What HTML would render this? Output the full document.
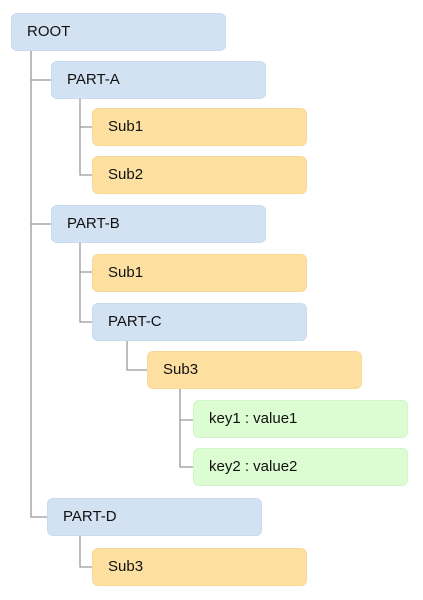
<!DOCTYPE html>
<html><head><meta charset="utf-8"><style>
body{margin:0;width:423px;height:600px;background:#fff;position:relative;overflow:hidden;font-family:"Liberation Sans",Arial,sans-serif;}
.b{position:absolute;width:212px;height:36px;border-radius:6px;font-size:15px;line-height:36px;padding-left:15px;box-sizing:content-box;color:#111;}
.b{width:198px;}
.bl{background:#d2e2f3;border:1px solid #c8dbf0;}
.o{background:#fde0a0;border:1px solid #f8d898;}
.g{background:#dcfdd2;border:1px solid #d0f5c6;}
svg{position:absolute;left:0;top:0;}
</style></head><body>
<svg width="423" height="600"><g stroke="#999" stroke-width="1.3" fill="none">
<path d="M31 51V517H47M31 80H51M31 224H51"/>
<path d="M80 98V175H92M80 127H92"/>
<path d="M80 242V322H92M80 272H92"/>
<path d="M127 341V370H147"/>
<path d="M180 389V467H193M180 420H193"/>
<path d="M80 536V567H92"/>
</g></svg>
<div class="b bl" style="left:11px;top:13px">ROOT</div>
<div class="b bl" style="left:51px;top:61px">PART-A</div>
<div class="b o" style="left:92px;top:108px">Sub1</div>
<div class="b o" style="left:92px;top:156px">Sub2</div>
<div class="b bl" style="left:51px;top:205px">PART-B</div>
<div class="b o" style="left:92px;top:254px">Sub1</div>
<div class="b bl" style="left:92px;top:303px">PART-C</div>
<div class="b o" style="left:147px;top:351px">Sub3</div>
<div class="b g" style="left:193px;top:400px">key1 : value1</div>
<div class="b g" style="left:193px;top:448px">key2 : value2</div>
<div class="b bl" style="left:47px;top:498px">PART-D</div>
<div class="b o" style="left:92px;top:548px">Sub3</div>
</body></html>
